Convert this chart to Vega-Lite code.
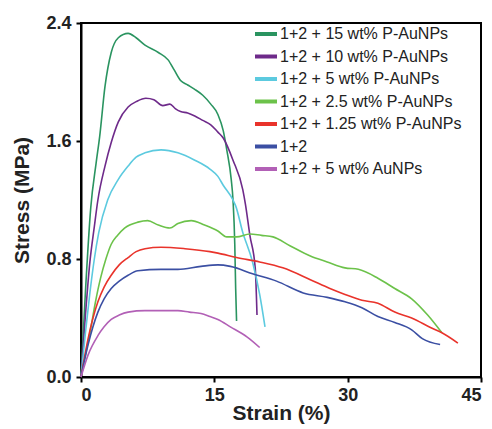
{
  "$schema": "https://vega.github.io/schema/vega-lite/v6.json",
  "autosize": "none",
  "width": 400,
  "height": 354,
  "padding": {"left": 81, "top": 23, "right": 11, "bottom": 52},
  "background": "white",
  "config": {
    "font": "Liberation Sans",
    "view": {"stroke": "black", "strokeWidth": 2},
    "axis": {
      "grid": false,
      "domainColor": "black",
      "domainWidth": 2,
      "tickColor": "black",
      "tickWidth": 2,
      "tickSize": 5,
      "labelFont": "Liberation Sans",
      "labelFontWeight": "bold",
      "labelFontSize": 18,
      "labelColor": "#222",
      "titleFont": "Liberation Sans",
      "titleFontWeight": "bold",
      "titleFontSize": 21,
      "titleColor": "#222"
    },
    "legend": {
      "labelFont": "Liberation Sans",
      "labelFontSize": 16,
      "labelColor": "#222",
      "labelLimit": 0
    }
  },
  "data": {"values": [
    {"s":"1+2 + 15 wt% P-AuNPs","x":0,"y":0},
    {"s":"1+2 + 15 wt% P-AuNPs","x":0.5,"y":0.58},
    {"s":"1+2 + 15 wt% P-AuNPs","x":1.1,"y":1.15},
    {"s":"1+2 + 15 wt% P-AuNPs","x":1.7,"y":1.45},
    {"s":"1+2 + 15 wt% P-AuNPs","x":2.1,"y":1.63},
    {"s":"1+2 + 15 wt% P-AuNPs","x":2.7,"y":1.97},
    {"s":"1+2 + 15 wt% P-AuNPs","x":3.4,"y":2.2},
    {"s":"1+2 + 15 wt% P-AuNPs","x":4.2,"y":2.3},
    {"s":"1+2 + 15 wt% P-AuNPs","x":5.3,"y":2.33},
    {"s":"1+2 + 15 wt% P-AuNPs","x":6.2,"y":2.3},
    {"s":"1+2 + 15 wt% P-AuNPs","x":7.2,"y":2.25},
    {"s":"1+2 + 15 wt% P-AuNPs","x":8.7,"y":2.2},
    {"s":"1+2 + 15 wt% P-AuNPs","x":9.8,"y":2.15},
    {"s":"1+2 + 15 wt% P-AuNPs","x":10.5,"y":2.08},
    {"s":"1+2 + 15 wt% P-AuNPs","x":11.2,"y":2.01},
    {"s":"1+2 + 15 wt% P-AuNPs","x":12.0,"y":1.98},
    {"s":"1+2 + 15 wt% P-AuNPs","x":12.8,"y":1.95},
    {"s":"1+2 + 15 wt% P-AuNPs","x":13.7,"y":1.91},
    {"s":"1+2 + 15 wt% P-AuNPs","x":14.6,"y":1.85},
    {"s":"1+2 + 15 wt% P-AuNPs","x":15.4,"y":1.78},
    {"s":"1+2 + 15 wt% P-AuNPs","x":16.0,"y":1.67},
    {"s":"1+2 + 15 wt% P-AuNPs","x":16.4,"y":1.54},
    {"s":"1+2 + 15 wt% P-AuNPs","x":16.9,"y":1.34},
    {"s":"1+2 + 15 wt% P-AuNPs","x":17.1,"y":1.2},
    {"s":"1+2 + 15 wt% P-AuNPs","x":17.3,"y":0.9},
    {"s":"1+2 + 15 wt% P-AuNPs","x":17.4,"y":0.6},
    {"s":"1+2 + 15 wt% P-AuNPs","x":17.5,"y":0.38},

    {"s":"1+2 + 10 wt% P-AuNPs","x":0,"y":0},
    {"s":"1+2 + 10 wt% P-AuNPs","x":0.5,"y":0.42},
    {"s":"1+2 + 10 wt% P-AuNPs","x":1.0,"y":0.78},
    {"s":"1+2 + 10 wt% P-AuNPs","x":1.5,"y":1.02},
    {"s":"1+2 + 10 wt% P-AuNPs","x":1.9,"y":1.2},
    {"s":"1+2 + 10 wt% P-AuNPs","x":2.7,"y":1.43},
    {"s":"1+2 + 10 wt% P-AuNPs","x":3.4,"y":1.59},
    {"s":"1+2 + 10 wt% P-AuNPs","x":4.2,"y":1.73},
    {"s":"1+2 + 10 wt% P-AuNPs","x":5.3,"y":1.83},
    {"s":"1+2 + 10 wt% P-AuNPs","x":6.3,"y":1.87},
    {"s":"1+2 + 10 wt% P-AuNPs","x":7.3,"y":1.89},
    {"s":"1+2 + 10 wt% P-AuNPs","x":8.2,"y":1.88},
    {"s":"1+2 + 10 wt% P-AuNPs","x":9.2,"y":1.84},
    {"s":"1+2 + 10 wt% P-AuNPs","x":10.0,"y":1.85},
    {"s":"1+2 + 10 wt% P-AuNPs","x":10.6,"y":1.82},
    {"s":"1+2 + 10 wt% P-AuNPs","x":11.2,"y":1.8},
    {"s":"1+2 + 10 wt% P-AuNPs","x":12.0,"y":1.79},
    {"s":"1+2 + 10 wt% P-AuNPs","x":12.8,"y":1.77},
    {"s":"1+2 + 10 wt% P-AuNPs","x":13.7,"y":1.74},
    {"s":"1+2 + 10 wt% P-AuNPs","x":14.6,"y":1.71},
    {"s":"1+2 + 10 wt% P-AuNPs","x":15.4,"y":1.66},
    {"s":"1+2 + 10 wt% P-AuNPs","x":16.0,"y":1.62},
    {"s":"1+2 + 10 wt% P-AuNPs","x":17.1,"y":1.47},
    {"s":"1+2 + 10 wt% P-AuNPs","x":18.2,"y":1.27},
    {"s":"1+2 + 10 wt% P-AuNPs","x":18.5,"y":1.17},
    {"s":"1+2 + 10 wt% P-AuNPs","x":19.0,"y":0.96},
    {"s":"1+2 + 10 wt% P-AuNPs","x":19.6,"y":0.74},
    {"s":"1+2 + 10 wt% P-AuNPs","x":19.8,"y":0.42},

    {"s":"1+2 + 5 wt% P-AuNPs","x":0,"y":0},
    {"s":"1+2 + 5 wt% P-AuNPs","x":0.5,"y":0.3},
    {"s":"1+2 + 5 wt% P-AuNPs","x":1.0,"y":0.57},
    {"s":"1+2 + 5 wt% P-AuNPs","x":1.5,"y":0.8},
    {"s":"1+2 + 5 wt% P-AuNPs","x":2.0,"y":0.98},
    {"s":"1+2 + 5 wt% P-AuNPs","x":3.0,"y":1.2},
    {"s":"1+2 + 5 wt% P-AuNPs","x":4.2,"y":1.34},
    {"s":"1+2 + 5 wt% P-AuNPs","x":5.3,"y":1.43},
    {"s":"1+2 + 5 wt% P-AuNPs","x":6.2,"y":1.49},
    {"s":"1+2 + 5 wt% P-AuNPs","x":7.2,"y":1.52},
    {"s":"1+2 + 5 wt% P-AuNPs","x":9.0,"y":1.54},
    {"s":"1+2 + 5 wt% P-AuNPs","x":10.9,"y":1.52},
    {"s":"1+2 + 5 wt% P-AuNPs","x":12.8,"y":1.47},
    {"s":"1+2 + 5 wt% P-AuNPs","x":14.5,"y":1.41},
    {"s":"1+2 + 5 wt% P-AuNPs","x":15.4,"y":1.36},
    {"s":"1+2 + 5 wt% P-AuNPs","x":16.0,"y":1.3},
    {"s":"1+2 + 5 wt% P-AuNPs","x":17.1,"y":1.2},
    {"s":"1+2 + 5 wt% P-AuNPs","x":17.4,"y":1.16},
    {"s":"1+2 + 5 wt% P-AuNPs","x":18.2,"y":0.98},
    {"s":"1+2 + 5 wt% P-AuNPs","x":19.3,"y":0.78},
    {"s":"1+2 + 5 wt% P-AuNPs","x":20.1,"y":0.56},
    {"s":"1+2 + 5 wt% P-AuNPs","x":20.7,"y":0.34},

    {"s":"1+2 + 2.5 wt% P-AuNPs","x":0,"y":0},
    {"s":"1+2 + 2.5 wt% P-AuNPs","x":0.5,"y":0.15},
    {"s":"1+2 + 2.5 wt% P-AuNPs","x":1.1,"y":0.33},
    {"s":"1+2 + 2.5 wt% P-AuNPs","x":1.6,"y":0.5},
    {"s":"1+2 + 2.5 wt% P-AuNPs","x":2.2,"y":0.67},
    {"s":"1+2 + 2.5 wt% P-AuNPs","x":2.8,"y":0.8},
    {"s":"1+2 + 2.5 wt% P-AuNPs","x":3.4,"y":0.9},
    {"s":"1+2 + 2.5 wt% P-AuNPs","x":4.1,"y":0.96},
    {"s":"1+2 + 2.5 wt% P-AuNPs","x":4.9,"y":1.01},
    {"s":"1+2 + 2.5 wt% P-AuNPs","x":6.4,"y":1.05},
    {"s":"1+2 + 2.5 wt% P-AuNPs","x":7.5,"y":1.06},
    {"s":"1+2 + 2.5 wt% P-AuNPs","x":8.7,"y":1.03},
    {"s":"1+2 + 2.5 wt% P-AuNPs","x":10.0,"y":1.01},
    {"s":"1+2 + 2.5 wt% P-AuNPs","x":10.9,"y":1.04},
    {"s":"1+2 + 2.5 wt% P-AuNPs","x":12.4,"y":1.06},
    {"s":"1+2 + 2.5 wt% P-AuNPs","x":13.9,"y":1.03},
    {"s":"1+2 + 2.5 wt% P-AuNPs","x":15.4,"y":0.99},
    {"s":"1+2 + 2.5 wt% P-AuNPs","x":16.4,"y":0.95},
    {"s":"1+2 + 2.5 wt% P-AuNPs","x":17.5,"y":0.95},
    {"s":"1+2 + 2.5 wt% P-AuNPs","x":19.0,"y":0.97},
    {"s":"1+2 + 2.5 wt% P-AuNPs","x":20.3,"y":0.96},
    {"s":"1+2 + 2.5 wt% P-AuNPs","x":21.6,"y":0.95},
    {"s":"1+2 + 2.5 wt% P-AuNPs","x":23.5,"y":0.89},
    {"s":"1+2 + 2.5 wt% P-AuNPs","x":25.8,"y":0.82},
    {"s":"1+2 + 2.5 wt% P-AuNPs","x":27.7,"y":0.78},
    {"s":"1+2 + 2.5 wt% P-AuNPs","x":29.7,"y":0.74},
    {"s":"1+2 + 2.5 wt% P-AuNPs","x":31.2,"y":0.73},
    {"s":"1+2 + 2.5 wt% P-AuNPs","x":33.4,"y":0.67},
    {"s":"1+2 + 2.5 wt% P-AuNPs","x":35.3,"y":0.6},
    {"s":"1+2 + 2.5 wt% P-AuNPs","x":37.2,"y":0.53},
    {"s":"1+2 + 2.5 wt% P-AuNPs","x":39.0,"y":0.42},
    {"s":"1+2 + 2.5 wt% P-AuNPs","x":40.6,"y":0.3},

    {"s":"1+2 + 1.25 wt% P-AuNPs","x":0,"y":0},
    {"s":"1+2 + 1.25 wt% P-AuNPs","x":0.8,"y":0.26},
    {"s":"1+2 + 1.25 wt% P-AuNPs","x":1.9,"y":0.51},
    {"s":"1+2 + 1.25 wt% P-AuNPs","x":2.6,"y":0.61},
    {"s":"1+2 + 1.25 wt% P-AuNPs","x":3.4,"y":0.69},
    {"s":"1+2 + 1.25 wt% P-AuNPs","x":4.3,"y":0.76},
    {"s":"1+2 + 1.25 wt% P-AuNPs","x":5.3,"y":0.81},
    {"s":"1+2 + 1.25 wt% P-AuNPs","x":6.2,"y":0.85},
    {"s":"1+2 + 1.25 wt% P-AuNPs","x":7.2,"y":0.87},
    {"s":"1+2 + 1.25 wt% P-AuNPs","x":9.0,"y":0.88},
    {"s":"1+2 + 1.25 wt% P-AuNPs","x":11.7,"y":0.87},
    {"s":"1+2 + 1.25 wt% P-AuNPs","x":14.5,"y":0.85},
    {"s":"1+2 + 1.25 wt% P-AuNPs","x":15.4,"y":0.84},
    {"s":"1+2 + 1.25 wt% P-AuNPs","x":17.5,"y":0.81},
    {"s":"1+2 + 1.25 wt% P-AuNPs","x":20.1,"y":0.78},
    {"s":"1+2 + 1.25 wt% P-AuNPs","x":22.7,"y":0.74},
    {"s":"1+2 + 1.25 wt% P-AuNPs","x":25.8,"y":0.66},
    {"s":"1+2 + 1.25 wt% P-AuNPs","x":28.0,"y":0.6},
    {"s":"1+2 + 1.25 wt% P-AuNPs","x":29.7,"y":0.56},
    {"s":"1+2 + 1.25 wt% P-AuNPs","x":31.6,"y":0.52},
    {"s":"1+2 + 1.25 wt% P-AuNPs","x":33.4,"y":0.5},
    {"s":"1+2 + 1.25 wt% P-AuNPs","x":35.3,"y":0.44},
    {"s":"1+2 + 1.25 wt% P-AuNPs","x":37.2,"y":0.4},
    {"s":"1+2 + 1.25 wt% P-AuNPs","x":39.5,"y":0.33},
    {"s":"1+2 + 1.25 wt% P-AuNPs","x":40.6,"y":0.3},
    {"s":"1+2 + 1.25 wt% P-AuNPs","x":42.4,"y":0.23},

    {"s":"1+2","x":0,"y":0},
    {"s":"1+2","x":0.8,"y":0.22},
    {"s":"1+2","x":1.9,"y":0.44},
    {"s":"1+2","x":2.6,"y":0.53},
    {"s":"1+2","x":3.4,"y":0.6},
    {"s":"1+2","x":4.3,"y":0.65},
    {"s":"1+2","x":5.3,"y":0.69},
    {"s":"1+2","x":6.4,"y":0.72},
    {"s":"1+2","x":9.0,"y":0.73},
    {"s":"1+2","x":10.9,"y":0.73},
    {"s":"1+2","x":13.5,"y":0.75},
    {"s":"1+2","x":15.4,"y":0.76},
    {"s":"1+2","x":16.8,"y":0.75},
    {"s":"1+2","x":19.3,"y":0.7},
    {"s":"1+2","x":22.0,"y":0.65},
    {"s":"1+2","x":25.0,"y":0.57},
    {"s":"1+2","x":27.7,"y":0.54},
    {"s":"1+2","x":29.7,"y":0.51},
    {"s":"1+2","x":31.6,"y":0.47},
    {"s":"1+2","x":33.4,"y":0.41},
    {"s":"1+2","x":35.3,"y":0.37},
    {"s":"1+2","x":37.2,"y":0.32},
    {"s":"1+2","x":38.4,"y":0.26},
    {"s":"1+2","x":40.4,"y":0.22},

    {"s":"1+2 + 5 wt% AuNPs","x":0,"y":0},
    {"s":"1+2 + 5 wt% AuNPs","x":0.8,"y":0.15},
    {"s":"1+2 + 5 wt% AuNPs","x":1.9,"y":0.28},
    {"s":"1+2 + 5 wt% AuNPs","x":2.6,"y":0.34},
    {"s":"1+2 + 5 wt% AuNPs","x":3.4,"y":0.39},
    {"s":"1+2 + 5 wt% AuNPs","x":4.3,"y":0.42},
    {"s":"1+2 + 5 wt% AuNPs","x":5.3,"y":0.44},
    {"s":"1+2 + 5 wt% AuNPs","x":7.2,"y":0.45},
    {"s":"1+2 + 5 wt% AuNPs","x":9.0,"y":0.45},
    {"s":"1+2 + 5 wt% AuNPs","x":10.9,"y":0.45},
    {"s":"1+2 + 5 wt% AuNPs","x":12.2,"y":0.44},
    {"s":"1+2 + 5 wt% AuNPs","x":13.5,"y":0.43},
    {"s":"1+2 + 5 wt% AuNPs","x":14.5,"y":0.41},
    {"s":"1+2 + 5 wt% AuNPs","x":15.4,"y":0.39},
    {"s":"1+2 + 5 wt% AuNPs","x":16.8,"y":0.34},
    {"s":"1+2 + 5 wt% AuNPs","x":18.7,"y":0.27},
    {"s":"1+2 + 5 wt% AuNPs","x":20.1,"y":0.2}
  ]},
  "mark": {"type": "line", "strokeWidth": 1.6, "interpolate": "monotone"},
  "encoding": {
    "x": {
      "field": "x", "type": "quantitative",
      "title": "Strain (%)",
      "scale": {"domain": [0, 45], "nice": false},
      "axis": {"values": [0, 15, 30, 45], "labelPadding": 4, "titlePadding": -2}
    },
    "y": {
      "field": "y", "type": "quantitative",
      "title": "Stress (MPa)",
      "scale": {"domain": [0, 2.4], "nice": false},
      "axis": {"values": [0, 0.8, 1.6, 2.4], "format": ".1f", "labelPadding": 5, "titlePadding": 13}
    },
    "color": {
      "field": "s", "type": "nominal",
      "scale": {
        "domain": ["1+2 + 15 wt% P-AuNPs", "1+2 + 10 wt% P-AuNPs", "1+2 + 5 wt% P-AuNPs", "1+2 + 2.5 wt% P-AuNPs", "1+2 + 1.25 wt% P-AuNPs", "1+2", "1+2 + 5 wt% AuNPs"],
        "range": ["#2a9460", "#6e2a8a", "#5ccadf", "#6cc24a", "#e9332b", "#3b4fa3", "#b260b6"]
      },
      "legend": {
        "title": null,
        "orient": "none",
        "legendX": 172,
        "legendY": -2,
        "symbolType": "stroke",
        "symbolSize": 484,
        "symbolStrokeWidth": 4,
        "rowPadding": 1.5,
        "labelOffset": 1
      }
    },
    "order": {"field": "x", "type": "quantitative"}
  }
}
